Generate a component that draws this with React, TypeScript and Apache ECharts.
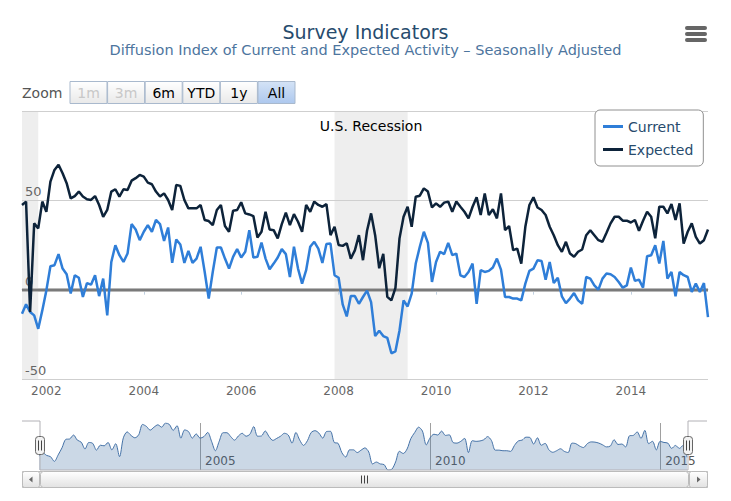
import React, { useEffect, useRef } from 'react';
import * as echarts from 'echarts';

const TITLE = 'Survey Indicators';
const SUBTITLE = 'Diffusion Index of Current and Expected Activity \u2013 Seasonally Adjusted';
const START_YEAR = 2001;
const START_MONTH = 7;

const current = [
  -13.5, -8.2, -12.5, -14.4, -21.9, -11.6, -0.4, 13.1, 13.7, 19.9,
  11.8, 8.6, -2.2, 8.1, 6.7, -4.1, 3.7, 2.8, 8.1, -3.6,
  6.2, -14.4, 15.5, 24.9, 19.3, 15.5, 20.2, 36.7, 33.7, 27.7,
  32.4, 36.1, 32.4, 39, 36.7, 27.3, 34.8, 15, 28.1, 25.3,
  15, 21.7, 15, 17.4, 24, 10, -5, 10, 23.6, 23.6,
  17.4, 11.8, 18.4, 22.7, 18, 21.2, 33.3, 18, 18.4, 26.4,
  17.4, 11.4, 14.6, 18, 22.7, 19.9, 7.1, 24, 11.8, 3.4,
  10.9, 24, 26.8, 23, 15, 25.5, 25.8, 8.1, 6.7, -8.2,
  -15, -3.6, -3.6, -7.9, -4.1, -0.5, -7, -26, -23, -26,
  -27, -35.6, -34.5, -22.8, -6, -9.4, -2.2, 14.6, 24, 32.4,
  26.2, 4.3, 15.5, 21.2, 19.9, 26.2, 19.3, 20.2, 8, 7.1,
  9.9, 14.6, -7.9, 10.9, 9.9, 10.5, 12.4, 17.4, 11.2, -4.1,
  -4.1, -5, -5, -6, 3.4, 10.5, 11.8, 16.5, 16.1, 5.6,
  15.5, 3.7, 6.6, -3.7, -7.5, -5, -1.9, -6, -7.9, 7.1,
  6.2, 2.4, 0, 6.2, 9, 8.6, 7.1, 4.3, 1.1, 2.4,
  12.4, 4.9, 5.6, 1.1, 18.7, 19.3, 24.9, 14.6, 27.3, 6.2,
  9.9, -3.7, 9.9, 8.1, 7.1, -1.3, 3.4, -1.3, 3.7, -15.4,
];

const expected = [
  47.4, 49.3, -12.5, 37.1, 34.3, 49.3, 43.6, 60.5, 67, 69.9,
  65.2, 59.6, 51.1, 52.4, 54.9, 52.1, 50.6, 50.2, 52.4, 47.4,
  40.8, 44.6, 54.9, 56.2, 52.1, 56.2, 55.8, 61, 62.4, 64.2,
  63.3, 59.9, 59, 54.9, 52.1, 53.9, 50.2, 44.6, 58.6, 58.1,
  50.2, 45.5, 45.5, 45.5, 47.4, 39, 38.4, 36.1, 44.6, 47.4,
  35.6, 32.4, 44.2, 44.6, 48.9, 42.7, 42.1, 41.2, 29.2, 32.4,
  43.6, 33.7, 33.3, 28.7, 36.7, 43.1, 36.1, 42.3, 38, 32.4,
  47.4, 43.6, 49.3, 47.4, 46.4, 47.9, 30.5, 35.2, 25, 24.5,
  26, 17.4, 22, 30.5, 16.5, 33, 42.7, 30.5, 12, 20,
  -4, -6, 1, 28.7, 40.8, 46.4, 35.2, 52, 52.6, 56.7,
  54.9, 46, 48.3, 46.4, 48.7, 49.3, 43.6, 49.3, 46.4, 43.6,
  39.9, 46.4, 51.7, 41.8, 53.9, 41.8, 45, 39.9, 53.9, 33.3,
  35.6, 22.1, 23, 14.6, 35.2, 47.4, 51.7, 46, 44.6, 41.8,
  35.2, 30.5, 24.9, 21.2, 26.8, 20.2, 18.4, 21.2, 22.5, 30.5,
  33.3, 30.5, 27.7, 26.8, 31.8, 37.1, 40.8, 40.8, 38.6, 38.6,
  37.6, 39, 33, 38.6, 43.6, 40.8, 28.7, 46.4, 46.4, 42.7,
  47.9, 39, 48.3, 25.8, 32.4, 37.1, 29.6, 25.8, 27.7, 33.7,
];

const recessions = [
  ['2001-07', '2001-11', ''],
  ['2007-12', '2009-06', 'U.S. Recession'],
];

const rangeButtons = ['1m', '3m', '6m', 'YTD', '1y', 'All'];
const disabledButtons = ['1m', '3m'];
const selectedButton = 'All';

const months: string[] = current.map((_, i) => {
  const m = START_MONTH - 1 + i;
  const y = START_YEAR + Math.floor(m / 12);
  const mm = (m % 12) + 1;
  return `${y}-${String(mm).padStart(2, '0')}`;
});

const FONT = "'DejaVu Sans', sans-serif";

const evenYearStart = (_i: number, v: string) =>
  v.endsWith('-01') && Number(v.slice(0, 4)) % 2 === 0;
const fiveYearStart = (_i: number, v: string) =>
  v.endsWith('-01') && Number(v.slice(0, 4)) % 5 === 0;

const grad = (a: string, b: string) => ({
  type: 'linear', x: 0, y: 0, x2: 0, y2: 1,
  colorStops: [{ offset: 0, color: a }, { offset: 1, color: b }],
});

function buildGraphic() {
  const els: any[] = [];
  [26, 32, 38].forEach((y) => {
    els.push({ type: 'rect', z: 20, shape: { x: 685, y, width: 22, height: 4, r: 2 }, style: { fill: '#666' } });
  });
  els.push({
    type: 'text', z: 20, x: 22, y: 93,
    style: { text: 'Zoom', fontSize: 14, fontFamily: FONT, fill: '#555', align: 'left', verticalAlign: 'middle' },
  });
  rangeButtons.forEach((b, k) => {
    const x = 70 + k * 37.6;
    const sel = b === selectedButton;
    const dis = disabledButtons.includes(b);
    els.push({
      type: 'rect', z: 20,
      shape: { x, y: 81.5, width: 37, height: 22 },
      style: { fill: sel ? grad('#d4e3f6', '#adc8ee') : grad('#ffffff', '#e9e9e9'), stroke: '#a9b9cd', lineWidth: 1 },
    });
    els.push({
      type: 'text', z: 21, x: x + 18.5, y: 92.5,
      style: { text: b, fontSize: 14, fontFamily: FONT, fill: dis ? '#c8c8c8' : '#000', align: 'center', verticalAlign: 'middle' },
    });
  });
  els.push({
    type: 'polyline', z: 20,
    shape: { points: [[22, 421], [40, 421], [40, 470], [688, 470], [688, 421], [707, 421]] },
    style: { stroke: '#b2b1b6', lineWidth: 1, fill: null },
  });
  els.push({ type: 'rect', z: 20, shape: { x: 22.5, y: 471.5, width: 685, height: 16 }, style: { fill: grad('#eeeeee', '#fafafa'), stroke: '#bbb' } });
  els.push({ type: 'rect', z: 21, shape: { x: 40.5, y: 471.5, width: 648, height: 16, r: 3 }, style: { fill: grad('#ffffff', '#e2e2e2'), stroke: '#bbb' } });
  els.push({ type: 'rect', z: 21, shape: { x: 22.5, y: 471.5, width: 17, height: 16, r: 2 }, style: { fill: grad('#ffffff', '#e2e2e2'), stroke: '#bbb' } });
  els.push({ type: 'rect', z: 21, shape: { x: 689.5, y: 471.5, width: 18, height: 16, r: 2 }, style: { fill: grad('#ffffff', '#e2e2e2'), stroke: '#bbb' } });
  els.push({ type: 'polygon', z: 22, shape: { points: [[32.5, 476.5], [32.5, 482.5], [29, 479.5]] }, style: { fill: '#666' } });
  els.push({ type: 'polygon', z: 22, shape: { points: [[697, 476.5], [697, 482.5], [700.5, 479.5]] }, style: { fill: '#666' } });
  [361.5, 364.5, 367.5].forEach((x) => {
    els.push({ type: 'line', z: 22, shape: { x1: x, y1: 475.5, x2: x, y2: 483.5 }, style: { stroke: '#444', lineWidth: 1 } });
  });
  [40, 688].forEach((cx) => {
    els.push({ type: 'rect', z: 23, shape: { x: cx - 4.5, y: 436.5, width: 9, height: 18, r: 3 }, style: { fill: '#f2f2f2', stroke: '#666', lineWidth: 1 } });
    [cx - 1.5, cx + 1.5].forEach((x) => {
      els.push({ type: 'line', z: 24, shape: { x1: x, y1: 440.5, x2: x, y2: 450.5 }, style: { stroke: '#444', lineWidth: 1 } });
    });
  });
  return els;
}

export default function App() {
  const ref = useRef<HTMLDivElement>(null);
  useEffect(() => {
    if (!ref.current) return;
    const chart = echarts.init(ref.current, undefined, { renderer: 'svg' });
    const option: any = {
      animation: false,
      backgroundColor: '#ffffff',
      textStyle: { fontFamily: FONT },
      title: [
        { text: TITLE, left: 'center', top: 22, padding: 0, textStyle: { fontSize: 19, lineHeight: 19, fontWeight: 'normal', color: '#274b6d', fontFamily: FONT } },
        { text: SUBTITLE, left: 'center', top: 43, padding: 0, textStyle: { fontSize: 14.5, lineHeight: 14.5, fontWeight: 'normal', color: '#4d759e', fontFamily: FONT } },
      ],
      legend: {
        data: ['Current', 'Expected'],
        orient: 'vertical',
        left: 595,
        top: 110,
        padding: [9, 10, 9, 8],
        itemGap: 8,
        itemWidth: 20,
        itemHeight: 3,
        icon: 'rect',
        borderColor: '#909090',
        borderWidth: 1,
        borderRadius: 5,
        backgroundColor: '#ffffff',
        textStyle: { fontSize: 14, lineHeight: 15, color: '#274b6d', fontFamily: FONT },
      },
      grid: [
        { left: 22, right: 23, top: 111, bottom: 122 },
        { left: 39, right: 44, top: 423, bottom: 31 },
      ],
      xAxis: [
        {
          type: 'category', gridIndex: 0, data: months, boundaryGap: false,
          axisLine: { lineStyle: { color: '#C0D0E0' } },
          axisTick: { show: true, interval: evenYearStart, length: 5, lineStyle: { color: '#C0D0E0' } },
          axisLabel: { interval: evenYearStart, formatter: (v: string) => v.slice(0, 4), color: '#666', fontSize: 12, margin: 6, fontFamily: FONT },
          splitLine: { show: false },
        },
        {
          type: 'category', gridIndex: 1, data: months, boundaryGap: false,
          axisLine: { show: false }, axisTick: { show: false },
          axisLabel: { inside: true, interval: fiveYearStart, formatter: (v: string) => v.slice(0, 4), align: 'left', padding: [0, 0, 0, 5], color: '#555', fontSize: 12, margin: 3, fontFamily: FONT },
          splitLine: { show: true, interval: fiveYearStart, lineStyle: { color: '#a0a0a0' } },
        },
      ],
      yAxis: [
        {
          type: 'value', gridIndex: 0, min: -50, max: 100, interval: 50,
          axisLine: { show: false }, axisTick: { show: false },
          axisLabel: { inside: true, margin: 3, align: 'left', verticalAlign: 'bottom', padding: [0, 0, 2, 0], color: '#666', fontSize: 13, fontFamily: FONT, formatter: (v: number) => (v === 100 ? '' : String(v)) },
          splitLine: { lineStyle: { color: '#cfcfcf' } },
        },
        { type: 'value', gridIndex: 1, min: 'dataMin', max: 'dataMax', show: false, splitLine: { show: false } },
      ],
      series: [
        {
          name: 'bands', type: 'line', data: [], z: -1, silent: true,
          markArea: {
            z: -1,
            silent: true,
            itemStyle: { color: '#eeeeee' },
            data: recessions.map(([a, b, label]) => [
              {
                xAxis: a, name: label,
                label: { show: !!label, position: 'insideTop', distance: 8, color: '#000', fontSize: 14, fontFamily: FONT, formatter: label },
              },
              { xAxis: b },
            ]),
          },
        },
        {
          name: 'zero', type: 'line', data: [], z: 1, silent: true,
          markLine: {
            z: 1,
            silent: true, symbol: ['none', 'none'], label: { show: false },
            data: [
              { yAxis: 0, lineStyle: { color: '#b8b8b8', width: 4, type: 'solid' } },
              { yAxis: 0, lineStyle: { color: '#7a7a7a', width: 2, type: 'solid' } },
            ],
          },
        },
        {
          name: 'Current', type: 'line', data: current, showSymbol: false, z: 2,
          lineStyle: { width: 2.5, color: '#2f7ed8' }, itemStyle: { color: '#2f7ed8' },
        },
        {
          name: 'Expected', type: 'line', data: expected, showSymbol: false, z: 3,
          lineStyle: { width: 2.5, color: '#0d233a' }, itemStyle: { color: '#0d233a' },
        },
        {
          name: 'Navigator', type: 'line', xAxisIndex: 1, yAxisIndex: 1, data: current, showSymbol: false, smooth: 0.3, silent: true,
          lineStyle: { width: 1, color: '#4572a7' },
          areaStyle: { color: 'rgba(69,114,167,0.4)', origin: 'start' },
        },
      ],
      graphic: buildGraphic(),
    };
    chart.setOption(option);
    return () => chart.dispose();
  }, []);
  return (
    <div
      ref={ref}
      style={{ position: 'fixed', left: 0, top: 0, width: 731, height: 501, background: '#fff' }}
    />
  );
}
